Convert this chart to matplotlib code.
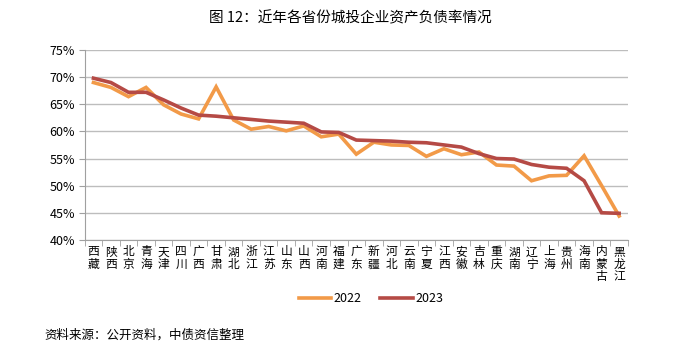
import matplotlib.pyplot as plt
import numpy as np
from matplotlib.ticker import FixedLocator, PercentFormatter

plt.rcParams['font.family'] = ['Noto Sans CJK SC', 'DejaVu Sans']

provinces = ['西藏', '陕西', '北京', '青海', '天津', '四川', '广西', '甘肃', '湖北', '浙江',
             '江苏', '山东', '山西', '河南', '福建', '广东', '新疆', '河北', '云南', '宁夏',
             '江西', '安徽', '吉林', '重庆', '湖南', '辽宁', '上海', '贵州', '海南', '内蒙古',
             '黑龙江']
ratio_2022 = [69.0, 68.1, 66.4, 68.1, 64.9, 63.2, 62.3, 68.2, 62.1, 60.4,
              60.9, 60.1, 61.0, 59.0, 59.5, 55.8, 58.0, 57.5, 57.4, 55.4,
              56.8, 55.7, 56.2, 53.8, 53.6, 50.9, 51.8, 51.9, 55.5, 50.0,
              44.4]
ratio_2023 = [69.8, 69.0, 67.2, 67.2, 65.8, 64.3, 63.0, 62.8, 62.5, 62.2,
              61.9, 61.7, 61.5, 59.9, 59.8, 58.4, 58.3, 58.2, 58.0, 57.9,
              57.5, 57.1, 55.9, 55.0, 54.9, 53.9, 53.4, 53.2, 50.9, 45.0,
              44.9]

x = np.arange(len(provinces))

fig = plt.figure(figsize=(7, 3.57), dpi=100)
ax = fig.add_axes([0.121, 0.328, 0.776, 0.532])

ax.plot(x, ratio_2022, color='#F29A48', lw=2.6, label='2022', solid_joinstyle='miter')
ax.plot(x, ratio_2023, color='#B54A45', lw=2.6, label='2023', solid_joinstyle='miter')

ax.set_ylim(40, 75)
ax.set_yticks(np.arange(40, 76, 5))
ax.yaxis.set_major_formatter(PercentFormatter(decimals=0))
ax.grid(axis='y', color='#BDBDBD', lw=1)
ax.set_axisbelow(True)

ax.set_xlim(-0.5, len(provinces) - 0.5)
ax.set_xticks(x)
ax.set_xticklabels(['\n'.join(p) for p in provinces], fontsize=8.5, linespacing=0.95)
ax.xaxis.set_minor_locator(FixedLocator(np.arange(-0.5, len(provinces), 1)))
ax.tick_params(axis='x', which='major', length=0, pad=4)
ax.tick_params(axis='x', which='minor', length=4, color='#A0A0A0')
ax.tick_params(axis='y', length=4, color='#A0A0A0', labelsize=9, pad=3)

for s in ['top', 'right']:
    ax.spines[s].set_visible(False)
for s in ['left', 'bottom']:
    ax.spines[s].set_color('#A0A0A0')

fig.legend(loc='center', bbox_to_anchor=(0.53, 0.163), ncol=2, frameon=False,
           fontsize=9, handlelength=2.6, handletextpad=0.2, columnspacing=1.5)

fig.text(0.5, 0.95, '图 12：近年各省份城投企业资产负债率情况', ha='center', va='center',
         fontsize=10.5)
fig.text(0.064, 0.062, '资料来源：公开资料，中债资信整理', ha='left', va='center', fontsize=9)

fig.savefig('out.png', dpi=100)
